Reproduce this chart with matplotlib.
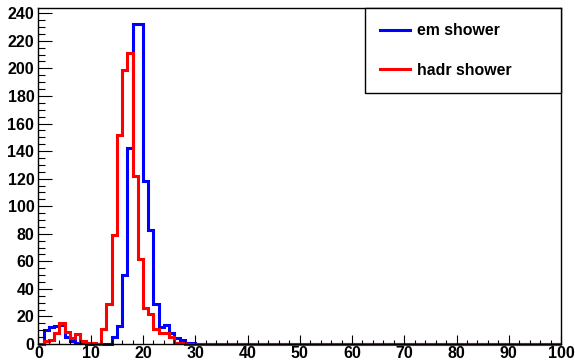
import numpy as np
import matplotlib
matplotlib.use("Agg")
import matplotlib.pyplot as plt

# Histogram binning: 100 bins of width 1 between 0 and 100
bin_edges = np.arange(0, 101, 1)

# Bin contents (first 30 bins, remaining bins are empty)
em_counts = [0, 10, 12, 13, 14, 5, 2, 1, 1, 0,
             0, 0, 0, 0, 5, 13, 50, 142, 232, 232,
             118, 83, 29, 12, 14, 8, 4, 3, 1, 1]
hadr_counts = [0, 2, 3, 8, 15, 9, 4, 7, 2, 1,
               1, 0, 11, 29, 79, 152, 199, 211, 122, 62,
               26, 22, 11, 8, 8, 5, 1, 1, 0, 0]

series_labels = ["em shower", "hadr shower"]
series_colors = ["#0000ff", "#ff0000"]


def full_hist(counts, nbins=100):
    out = np.zeros(nbins)
    out[:len(counts)] = counts
    return out


em = full_hist(em_counts)
hadr = full_hist(hadr_counts)

plt.rcParams["font.family"] = ["Liberation Sans", "DejaVu Sans"]
plt.rcParams["font.weight"] = "bold"

fig = plt.figure(figsize=(5.75, 3.6), dpi=100)
ax = fig.add_axes([38.5 / 575, 16 / 360, 522.5 / 575, 335.7 / 360])

lw = 2.2
h_em = ax.stairs(em, bin_edges, color=series_colors[0], linewidth=lw,
                 label=series_labels[0], clip_on=False)
h_hadr = ax.stairs(hadr, bin_edges, color=series_colors[1], linewidth=lw,
                   label=series_labels[1], clip_on=False)

ymax = 1.05 * max(em.max(), hadr.max())
ax.set_xlim(0, 100)
ax.set_ylim(0, ymax)

ax.set_xticks(np.arange(0, 101, 10))
ax.set_xticks(np.arange(0, 101, 2), minor=True)
ax.set_yticks(np.arange(0, 241, 20))
ax.set_yticks(np.arange(0, 241, 5), minor=True)

ax.tick_params(axis="x", which="major", direction="in", length=6.5, width=0.8,
               labelsize=11.5, pad=1.5, top=False)
ax.tick_params(axis="x", which="minor", direction="in", length=3.2, width=0.8,
               top=False)
ax.tick_params(axis="y", which="major", direction="in", length=10, width=0.8,
               labelsize=11.5, pad=3, right=False)
ax.tick_params(axis="y", which="minor", direction="in", length=5, width=0.8,
               right=False)
for lab in ax.get_xticklabels() + ax.get_yticklabels():
    lab.set_fontweight("bold")

for sp in ax.spines.values():
    sp.set_linewidth(1.0)
    sp.set_color("black")

leg = ax.legend(handles=[h_em, h_hadr], loc="upper left",
                bbox_to_anchor=(0.625, 1.0, 0.375, 0.0), mode="expand",
                borderaxespad=0, frameon=True, fancybox=False, framealpha=1,
                edgecolor="black", prop={"weight": "bold", "size": 11.4},
                handlelength=1.9, handletextpad=0.4, borderpad=0.95,
                labelspacing=1.55)
leg.get_frame().set_linewidth(1.0)

fig.savefig("out.png", dpi=100)
